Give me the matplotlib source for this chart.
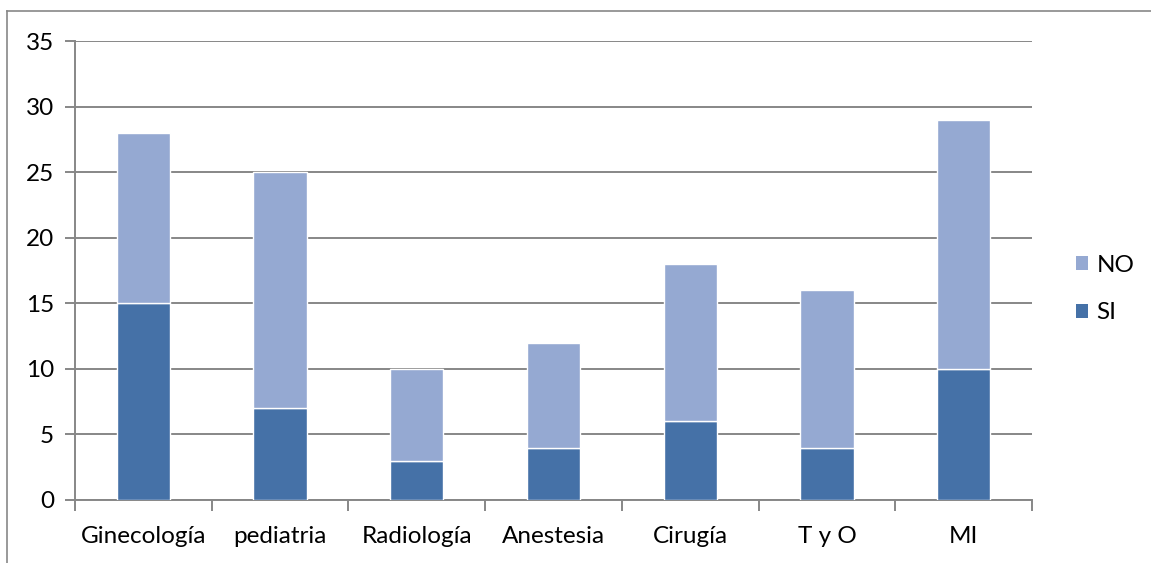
import matplotlib
matplotlib.use("Agg")
import matplotlib.pyplot as plt
from matplotlib.lines import Line2D
from matplotlib.patches import Patch

plt.rcParams['font.family'] = ['Lato', 'DejaVu Sans']

categories = ["Ginecología", "pediatria", "Radiología", "Anestesia", "Cirugía", "T y O", "MI"]
si_values = [15, 7, 3, 4, 6, 4, 10]
no_values = [13, 18, 7, 8, 12, 12, 19]
y_ticks = [0, 5, 10, 15, 20, 25, 30, 35]

si_color = "#4571A7"
no_color = "#95A9D2"
grid_color = "#878787"
fs = 17.5

W, H = 1151, 563
fig = plt.figure(figsize=(W / 100, H / 100), dpi=100)
ax = fig.add_axes([75 / W, 1 - 500 / H, (1032 - 75) / W, (500 - 41) / H])

x = list(range(len(categories)))
bw = 0.39
ax.bar(x, si_values, width=bw, color=si_color, edgecolor="white", linewidth=1.0, zorder=3)
ax.bar(x, no_values, width=bw, bottom=si_values, color=no_color, edgecolor="white",
       linewidth=1.0, zorder=3)

ax.set_xlim(-0.5, len(categories) - 0.5)
ax.set_ylim(0, 35)
ax.set_yticks(y_ticks)
ax.set_yticklabels([str(v) for v in y_ticks], fontsize=fs)
ax.yaxis.grid(True, color=grid_color, linewidth=1.4, zorder=0)
ax.set_axisbelow(True)

# category labels centred, ticks on category boundaries
ax.set_xticks(x)
ax.set_xticklabels(categories, fontsize=fs)
ax.tick_params(axis="x", length=0, pad=19)
ax.set_xticks([i - 0.5 for i in range(len(categories) + 1)], minor=True)
ax.tick_params(axis="x", which="minor", length=8, width=1.4, color=grid_color, direction="out")
ax.tick_params(axis="y", length=7, width=1.4, color=grid_color, direction="out", pad=8)

for side in ["top", "right"]:
    ax.spines[side].set_visible(False)
for side in ["left", "bottom"]:
    ax.spines[side].set_color(grid_color)
    ax.spines[side].set_linewidth(1.4)

handles = [Patch(facecolor=no_color, label="NO"), Patch(facecolor=si_color, label="SI")]
fig.legend(handles=handles, loc="center left", bbox_to_anchor=(1076 / W, 1 - 289 / H),
           frameon=False, fontsize=fs, handlelength=0.5, handleheight=0.5,
           handletextpad=0.35, labelspacing=1.1, borderpad=0, borderaxespad=0)

# outer chart frame
fig.add_artist(Line2D([7 / W, 7 / W], [0, 1 - 11 / H], color=grid_color, linewidth=1.2,
                      transform=fig.transFigure))
fig.add_artist(Line2D([7 / W, 1], [1 - 11 / H, 1 - 11 / H], color=grid_color, linewidth=1.2,
                      transform=fig.transFigure))

fig.savefig("out.png", dpi=100)
